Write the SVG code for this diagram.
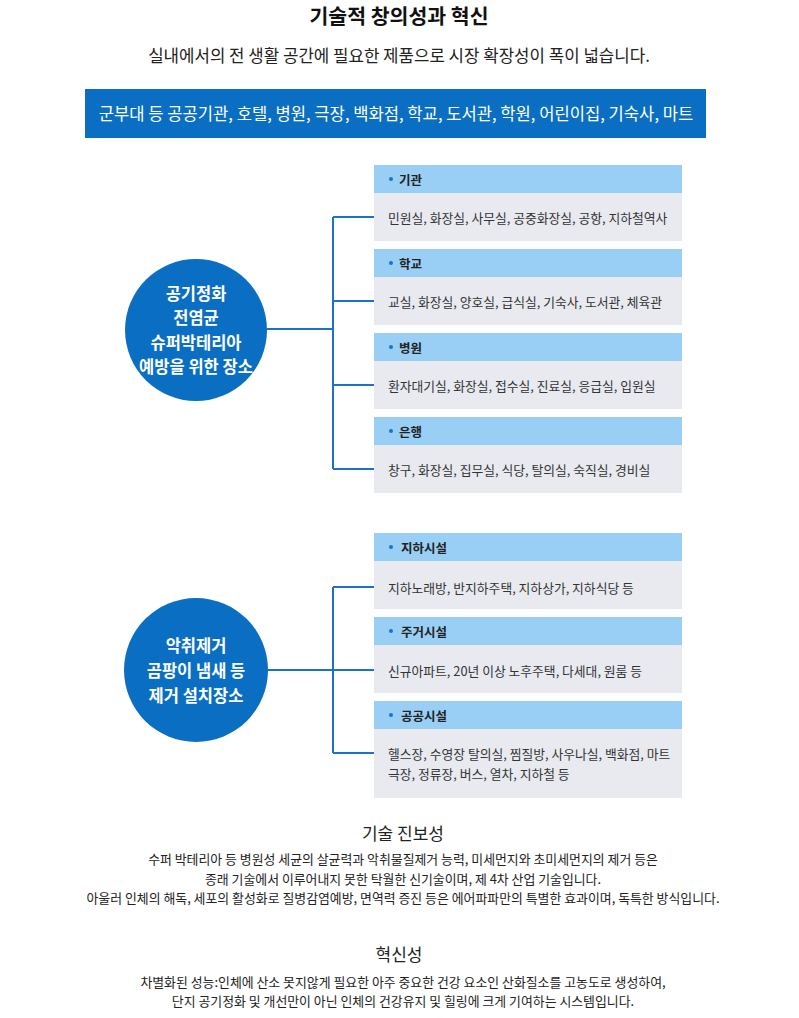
<svg xmlns="http://www.w3.org/2000/svg" width="799" height="1018" viewBox="0 0 799 1018">
<style>
text{font-family:"Noto Sans CJK KR","Noto Sans",sans-serif;dominant-baseline:central}
.t{font-size:20.5px;font-weight:700;fill:#111;text-anchor:middle}
.sub{font-size:16.8px;fill:#222;text-anchor:middle}
.bar{font-size:16.6px;fill:#fff;text-anchor:middle}
.hd{fill:#99cef5}
.bd{fill:#e8eaf0}
.hl{font-size:12.5px;font-weight:700;fill:#222}
.bl{font-size:12.8px;fill:#333}
.ct{font-size:16.5px;font-weight:700;fill:#fff;text-anchor:middle}
.h2{font-size:17px;fill:#222;text-anchor:middle}
.p{font-size:12.9px;fill:#222;text-anchor:middle}
.dot{fill:#1a73c8}
.cn{fill:none;stroke:#1a73c8;stroke-width:2}
</style>
<rect width="799" height="1018" fill="#fff"/>
<g id="title">
<text class="t" x="399" y="15">기술적 창의성과 혁신</text>
<text class="sub" x="399" y="55">실내에서의 전 생활 공간에 필요한 제품으로 시장 확장성이 폭이 넓습니다.</text>
</g>
<g id="bar">
<rect x="85" y="89" width="621" height="49" fill="#0a6fc2"/>
<text class="bar" x="396" y="113">군부대 등 공공기관, 호텔, 병원, 극장, 백화점, 학교, 도서관, 학원, 어린이집, 기숙사, 마트</text>
</g>
<g id="connectors">
<path class="cn" d="M267 329H333M333 217V469M333 217H374M333 301H374M333 385H374M333 469H374"/>
<path class="cn" d="M268 670H333M333 587V753M333 587H374M333 670H374M333 753H374"/>
</g>
<g id="circle1">
<circle cx="196" cy="330" r="71" fill="#0a6fc2"/>
<text class="ct" x="196" y="293">공기정화</text>
<text class="ct" x="196" y="317">전염균</text>
<text class="ct" x="196" y="342">슈퍼박테리아</text>
<text class="ct" x="196" y="366">예방을 위한 장소</text>
</g>
<g id="circle2">
<circle cx="196" cy="670" r="72" fill="#0a6fc2"/>
<text class="ct" x="196" y="645">악취제거</text>
<text class="ct" x="196" y="670">곰팡이 냄새 등</text>
<text class="ct" x="196" y="695">제거 설치장소</text>
</g>
<g id="box-gigwan">
<rect class="hd" x="374" y="165" width="308" height="28"/>
<rect class="bd" x="374" y="193" width="308" height="48"/>
<circle class="dot" cx="391" cy="179" r="2"/>
<text class="hl" x="399" y="179">기관</text>
<text class="bl" x="388" y="217">민원실, 화장실, 사무실, 공중화장실, 공항, 지하철역사</text>
</g>
<g id="box-school">
<rect class="hd" x="374" y="249" width="308" height="28"/>
<rect class="bd" x="374" y="277" width="308" height="48"/>
<circle class="dot" cx="391" cy="263" r="2"/>
<text class="hl" x="399" y="263">학교</text>
<text class="bl" x="388" y="301">교실, 화장실, 양호실, 급식실, 기숙사, 도서관, 체육관</text>
</g>
<g id="box-hospital">
<rect class="hd" x="374" y="333" width="308" height="28"/>
<rect class="bd" x="374" y="361" width="308" height="48"/>
<circle class="dot" cx="391" cy="347" r="2"/>
<text class="hl" x="399" y="347">병원</text>
<text class="bl" x="388" y="385">환자대기실, 화장실, 접수실, 진료실, 응급실, 입원실</text>
</g>
<g id="box-bank">
<rect class="hd" x="374" y="417" width="308" height="28"/>
<rect class="bd" x="374" y="445" width="308" height="48"/>
<circle class="dot" cx="391" cy="431" r="2"/>
<text class="hl" x="399" y="431">은행</text>
<text class="bl" x="388" y="469">창구, 화장실, 집무실, 식당, 탈의실, 숙직실, 경비실</text>
</g>
<g id="box-underground">
<rect class="hd" x="374" y="533" width="308" height="28"/>
<rect class="bd" x="374" y="561" width="308" height="48"/>
<circle class="dot" cx="391" cy="547" r="2"/>
<text class="hl" x="401" y="547">지하시설</text>
<text class="bl" x="388" y="587">지하노래방, 반지하주택, 지하상가, 지하식당 등</text>
</g>
<g id="box-housing">
<rect class="hd" x="374" y="617" width="308" height="28"/>
<rect class="bd" x="374" y="645" width="308" height="48"/>
<circle class="dot" cx="391" cy="631" r="2"/>
<text class="hl" x="401" y="631">주거시설</text>
<text class="bl" x="388" y="670">신규아파트, 20년 이상 노후주택, 다세대, 원룸 등</text>
</g>
<g id="box-public">
<rect class="hd" x="374" y="701" width="308" height="28"/>
<rect class="bd" x="374" y="729" width="308" height="69"/>
<circle class="dot" cx="391" cy="715" r="2"/>
<text class="hl" x="401" y="715">공공시설</text>
<text class="bl" x="388" y="753">헬스장, 수영장 탈의실, 찜질방, 사우나실, 백화점, 마트</text>
<text class="bl" x="388" y="773">극장, 정류장, 버스, 열차, 지하철 등</text>
</g>
<g id="bottom">
<text class="h2" x="403" y="832">기술 진보성</text>
<text class="p" x="403" y="858">수퍼 박테리아 등 병원성 세균의 살균력과 악취물질제거 능력, 미세먼지와 초미세먼지의 제거 등은</text>
<text class="p" x="403" y="878">종래 기술에서 이루어내지 못한 탁월한 신기술이며, 제 4차 산업 기술입니다.</text>
<text class="p" x="403" y="897">아울러 인체의 해독, 세포의 활성화로 질병감염예방, 면역력 증진 등은 에어파파만의 특별한 효과이며, 독특한 방식입니다.</text>
<text class="h2" x="399" y="953">혁신성</text>
<text class="p" x="403" y="981">차별화된 성능:인체에 산소 못지않게 필요한 아주 중요한 건강 요소인 산화질소를 고농도로 생성하여,</text>
<text class="p" x="403" y="1000">단지 공기정화 및 개선만이 아닌 인체의 건강유지 및 힐링에 크게 기여하는 시스템입니다.</text>
</g>
</svg>
